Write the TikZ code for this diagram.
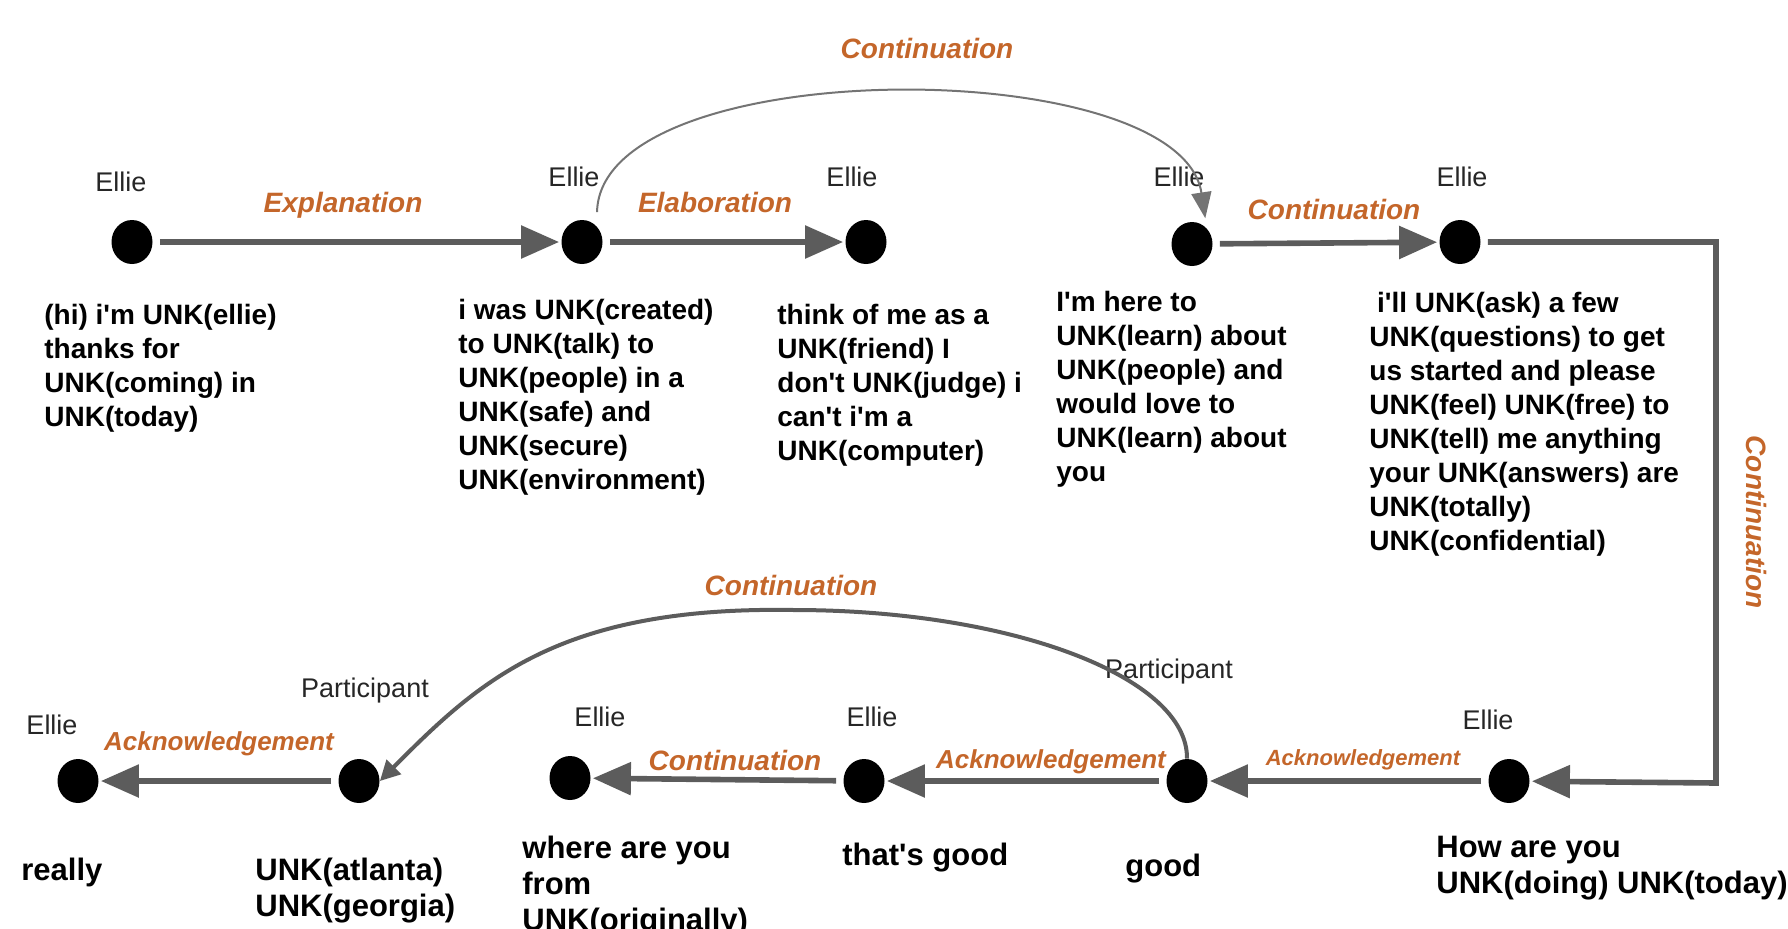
\documentclass[tikz,border=0pt]{standalone}
\usepackage{fontspec}
\setmainfont{Liberation Sans}[Ligatures=TeXOff]
\usetikzlibrary{arrows.meta,shapes.geometric}
\definecolor{relorange}{RGB}{196,102,42}
\definecolor{edgegray}{RGB}{92,92,92}

\begin{document}
\begin{tikzpicture}[
		x=0.5pt, y=-0.5pt,
		turnmark/.style = {ellipse, fill=black, minimum width=20.5pt, minimum height=22pt, inner sep=0pt},
		speaker/.style = {font=\fontsize{13.5}{16}\selectfont, text=black!85, text depth=0pt},
		relation/.style = {font=\fontsize{14}{16}\selectfont\bfseries\itshape, text=relorange, text depth=0pt},
		utterance/.style = {anchor=north west, align=left, inner sep=0pt, font=\fontsize{14}{17}\selectfont\bfseries},
		reply/.style = {utterance, font=\fontsize{15.5}{18}\selectfont\bfseries},
		relarrow/.style = {draw=edgegray, line width=2.8pt, -{Triangle[length=19pt,width=16pt]}, shorten <=3.5pt, shorten >=1pt},
		skiparc/.style = {draw=edgegray!85, line width=1pt, -{Triangle[length=13pt,width=10pt]}},
		backarc/.style = {draw=edgegray, line width=2pt, -{Triangle[length=10pt,width=10pt]}}]
	\useasboundingbox (0,0) rectangle (1788,928);

	\node[turnmark] (a1) at (132,242) {};
	\node[turnmark] (a2) at (582,242) {};
	\node[turnmark] (a3) at (866,242) {};
	\node[turnmark] (a4) at (1192,244) {};
	\node[turnmark] (a5) at (1460,242) {};
	\node[turnmark] (c1) at (78,781) {};
	\node[turnmark] (c2) at (359,781) {};
	\node[turnmark] (c3) at (570,778) {};
	\node[turnmark] (c4) at (864,781) {};
	\node[turnmark] (c5) at (1187,781) {};
	\node[turnmark] (c6) at (1509,781) {};

	\node[speaker] (sa1) at (121,182) {Ellie};
	\node[speaker] (sa2) at (574,177) {Ellie};
	\node[speaker] (sa3) at (852,177) {Ellie};
	\node[speaker] (sa4) at (1179,177) {Ellie};
	\node[speaker] (sa5) at (1462,177) {Ellie};
	\node[speaker] (sc1) at (52,725) {Ellie};
	\node[speaker] (sc2) at (365,688) {Participant};
	\node[speaker] (sc3) at (600,717) {Ellie};
	\node[speaker] (sc4) at (872,717) {Ellie};
	\node[speaker] (sc5) at (1169,669) {Participant};
	\node[speaker] (sc6) at (1488,720) {Ellie};

	\node[relation] (r1) at (343,202) {Explanation};
	\node[relation] (r2) at (715,202) {Elaboration};
	\node[relation] (r3) at (927,48) {Continuation};
	\node[relation] (r4) at (1334,209) {Continuation};
	\node[relation, rotate=-90] (r5) at (1757,522) {Continuation};
	\node[relation, font=\fontsize{11}{13}\selectfont\bfseries\itshape] (r6) at (1363,758) {Acknowledgement};
	\node[relation, font=\fontsize{13}{15}\selectfont\bfseries\itshape] (r7) at (1051,759) {Acknowledgement};
	\node[relation] (r8) at (735,760) {Continuation};
	\node[relation, font=\fontsize{13}{15}\selectfont\bfseries\itshape] (r9) at (219,741) {Acknowledgement};
	\node[relation] (r10) at (791,585) {Continuation};

	\node[utterance] (ta1) at (44,304) {(hi) i'm UNK(ellie)\\thanks for\\UNK(coming) in\\UNK(today)};
	\node[utterance] (ta2) at (458,299) {i was UNK(created)\\to UNK(talk) to\\UNK(people) in a\\UNK(safe) and\\UNK(secure)\\UNK(environment)};
	\node[utterance] (ta3) at (777,304) {think of me as a\\UNK(friend) I\\don't UNK(judge) i\\can't i'm a\\UNK(computer)};
	\node[utterance] (ta4) at (1056,291) {I'm here to\\UNK(learn) about\\UNK(people) and\\would love to\\UNK(learn) about\\you};
	\node[utterance] (ta5) at (1369,292) {\ i'll UNK(ask) a few\\UNK(questions) to get\\us started and please\\UNK(feel) UNK(free) to\\UNK(tell) me anything\\your UNK(answers) are\\UNK(totally)\\UNK(confidential)};
	\node[reply] (tc1) at (21,858) {really};
	\node[reply] (tc2) at (255,858) {UNK(atlanta)\\UNK(georgia)};
	\node[reply] (tc3) at (522,836) {where are you\\from\\UNK(originally)};
	\node[reply] (tc4) at (842,843) {that's good};
	\node[reply] (tc5) at (1125,854) {good};
	\node[reply] (tc6) at (1436,836) {How are you\\UNK(doing) UNK(today)};

	\coordinate (cornerTop) at (1716,242);
	\coordinate (cornerBot) at (1716,783);
	\coordinate (arcTop) at (794,610);

	\draw[relarrow] (a1) -- (a2);
	\draw[relarrow] (a2) -- (a3);
	\draw[relarrow] (a4) -- (a5);
	\draw[relarrow] (a5) -- (cornerTop) -- (cornerBot) -- (c6);
	\draw[relarrow] (c6) -- (c5);
	\draw[relarrow] (c5) -- (c4);
	\draw[relarrow] (c4) -- (c3);
	\draw[relarrow] (c2) -- (c1);
	\draw[skiparc, shorten <=7pt, shorten >=5pt] (a2.north east) .. controls (600,52) and (1180,52) .. (a4.north east);
	\draw[backarc] (c5.north) .. controls (1188,677) and (1011,610) .. (arcTop) .. controls (560,606) and (480,680) .. (c2.east);
\end{tikzpicture}
\end{document}
